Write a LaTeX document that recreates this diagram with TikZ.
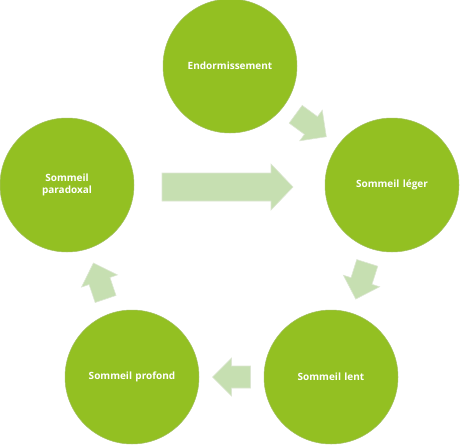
\documentclass[tikz,border=0pt]{standalone}
\usepackage{fontspec}
\setmainfont{Open Sans}
\begin{document}
\begin{tikzpicture}[x=1pt,y=-1pt]
\definecolor{circgreen}{HTML}{93C022}
\definecolor{circedge}{HTML}{A2BE62}
\definecolor{arrfill}{HTML}{C6DFB1}
\definecolor{arredge}{HTML}{DCE6D2}
\tikzset{
  circ/.style={circle, fill=circgreen, draw=circedge, line width=0.5pt,
    minimum size=134pt, inner sep=0pt, text=white, text width=100pt, align=center,
    font=\bfseries\fontsize{10}{12}\selectfont},
  arrstyle/.style={fill=arrfill, draw=arredge, line width=0.6pt},
  smallarr/.pic={\path[arrstyle] (-19,-11) -- (0,-11) -- (0,-19) -- (19,0)
      -- (0,19) -- (0,11) -- (-19,11) -- cycle;},
  bigarr/.pic={\path[arrstyle] (-65.5,-14) -- (43.5,-14) -- (43.5,-23) -- (65.5,0)
      -- (43.5,23) -- (43.5,14) -- (-65.5,14) -- cycle;},
  onmid/.style={pos=0.5, sloped, allow upside down}
}
\useasboundingbox (0,0) rectangle (460,444);
\node[circ] (E) at (230,66) {Endormissement};
\node[circ] (L) at (392,185) {Sommeil léger};
\node[circ] (N) at (331,377) {Sommeil lent};
\node[circ] (P) at (132,377) {Sommeil profond};
\node[circ] (D) at (67,185) {Sommeil\\paradoxal};
\path (E) -- (L) pic[onmid] {smallarr};
\path (L) -- (N) pic[onmid] {smallarr};
\path (N) -- (P) pic[onmid] {smallarr};
\path (P) -- (D) pic[onmid] {smallarr};
\path (D) -- (L) pic[onmid, xshift=-2pt, yshift=-2pt] {bigarr};
\end{tikzpicture}
\end{document}
